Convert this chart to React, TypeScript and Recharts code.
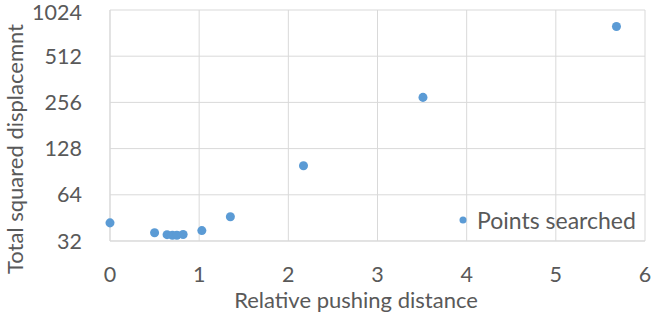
import { CartesianGrid, Label, Scatter, ScatterChart, XAxis, YAxis, ZAxis } from "recharts";

const X_VALUES = [0, 0.5, 0.64, 0.7, 0.75, 0.82, 1.03, 1.35, 2.17, 3.51, 5.68];
const Y_VALUES = [42, 36.2, 35.2, 34.9, 34.9, 35.3, 37.4, 46, 99, 276, 800];
const X_TICKS = [0, 1, 2, 3, 4, 5, 6];
const Y_TICKS = [32, 64, 128, 256, 512, 1024];

const SERIES = "Points searched";
const BLUE = "#5b9bd5";
const GRID = "#d9d9d9";
const TEXT = "#595959";
const FONT = "Lato, 'Open Sans', sans-serif";
const TICK_SIZE = 21.5;
const LABEL_SIZE = 22;

const data = X_VALUES.map((x, i) => ({ x, y: Y_VALUES[i] }));

export default function App() {
  return (
    <div style={{ position: "absolute", left: 0, top: 0, width: 651, height: 326, background: "#fff" }}>
      <ScatterChart width={651} height={326} margin={{ top: 10, right: 6, bottom: 25, left: 0 }}>
        <CartesianGrid stroke={GRID} strokeWidth={1} />
        <XAxis
          type="number"
          dataKey="x"
          domain={[0, 6]}
          ticks={X_TICKS}
          height={60}
          tickLine={false}
          axisLine={{ stroke: GRID }}
          tickMargin={20}
          tick={{ fill: TEXT, fontSize: TICK_SIZE, fontFamily: FONT }}
        >
          <Label
            content={() => (
              <text x={356} y={308} textAnchor="middle" fill={TEXT} fontSize={LABEL_SIZE} fontFamily={FONT}>
                Relative pushing distance
              </text>
            )}
          />
        </XAxis>
        <YAxis
          type="number"
          dataKey="y"
          scale="log"
          domain={[32, 1024]}
          ticks={Y_TICKS}
          allowDataOverflow
          width={110}
          tickLine={false}
          axisLine={{ stroke: GRID }}
          tickMargin={22}
          tick={{ fill: TEXT, fontSize: TICK_SIZE, fontFamily: FONT }}
        >
          <Label
            content={() => (
              <text
                x={0}
                y={0}
                transform="translate(23,149) rotate(-90)"
                textAnchor="middle"
                fill={TEXT}
                fontSize={LABEL_SIZE}
                fontFamily={FONT}
              >
                Total squared displacemnt
              </text>
            )}
          />
        </YAxis>
        <ZAxis range={[55, 55]} />
        <Scatter name={SERIES} data={data} fill={BLUE} isAnimationActive={false} />
      </ScatterChart>
      <div
        style={{
          position: "absolute",
          left: 456,
          top: 206,
          display: "flex",
          alignItems: "center",
          fontFamily: FONT,
          fontSize: 23,
          color: TEXT,
          lineHeight: "28px",
        }}
      >
        <svg width={14} height={14} style={{ marginRight: 7 }}>
          <circle cx={7} cy={7} r={3.5} fill={BLUE} />
        </svg>
        <span>{SERIES}</span>
      </div>
    </div>
  );
}
